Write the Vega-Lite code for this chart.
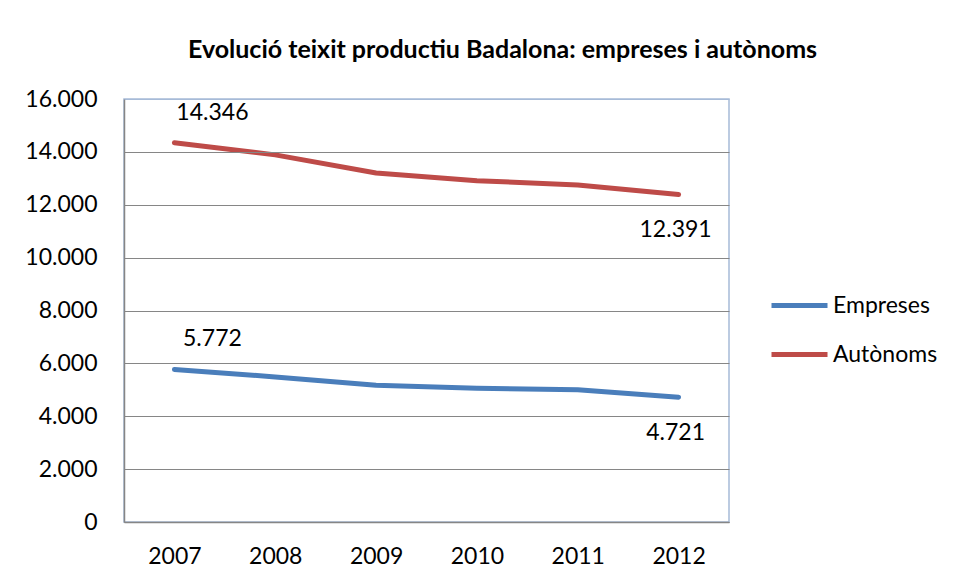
{
  "$schema": "https://vega.github.io/schema/vega-lite/v6.json",
  "width": 605,
  "height": 423,
  "autosize": {"type": "none"},
  "padding": {"left": 124, "top": 99, "right": 226, "bottom": 61},
  "background": "white",
  "config": {
    "font": "Lato",
    "view": {"stroke": "#A7BBD8", "strokeWidth": 1.5},
    "locale": {"number": {"decimal": ",", "thousands": ".", "grouping": [3], "currency": ["", " €"]}}
  },
  "title": {
    "text": "Evolució teixit productiu Badalona: empreses i autònoms",
    "font": "Lato",
    "fontSize": 25,
    "fontWeight": "bold",
    "color": "black",
    "anchor": "middle",
    "dx": 76,
    "baseline": "alphabetic",
    "offset": 5
  },
  "data": {
    "values": [
      {"year": "2007", "series": "Empreses", "value": 5772},
      {"year": "2008", "series": "Empreses", "value": 5487},
      {"year": "2009", "series": "Empreses", "value": 5175},
      {"year": "2010", "series": "Empreses", "value": 5062},
      {"year": "2011", "series": "Empreses", "value": 5000},
      {"year": "2012", "series": "Empreses", "value": 4721},
      {"year": "2007", "series": "Autònoms", "value": 14346},
      {"year": "2008", "series": "Autònoms", "value": 13887},
      {"year": "2009", "series": "Autònoms", "value": 13200},
      {"year": "2010", "series": "Autònoms", "value": 12912},
      {"year": "2011", "series": "Autònoms", "value": 12750},
      {"year": "2012", "series": "Autònoms", "value": 12391}
    ]
  },
  "encoding": {
    "x": {
      "field": "year", "type": "ordinal",
      "scale": {"type": "point", "padding": 0.5},
      "axis": {
        "title": null, "labelAngle": 0, "ticks": false, "grid": false,
        "domainColor": "#868686", "domainWidth": 1.5,
        "labelFont": "Lato", "labelFontSize": 23, "labelColor": "black",
        "labelPadding": 23, "zindex": 1
      }
    },
    "y": {
      "field": "value", "type": "quantitative",
      "scale": {"domain": [0, 16000], "nice": false},
      "axis": {
        "title": null, "values": [0, 2000, 4000, 6000, 8000, 10000, 12000, 14000, 16000],
        "format": ",d", "ticks": false,
        "domainColor": "#868686", "domainWidth": 1.5,
        "gridColor": {"condition": {"test": "datum.value == 16000", "value": "#A7BBD8"}, "value": "#868686"},
        "gridWidth": 1.2,
        "labelFont": "Lato", "labelFontSize": 23, "labelColor": "black",
        "labelPadding": 27, "zindex": 1
      }
    }
  },
  "layer": [
    {
      "mark": {"type": "line", "strokeWidth": 5, "strokeCap": "round", "strokeJoin": "round"},
      "encoding": {
        "color": {
          "field": "series", "type": "nominal",
          "scale": {"domain": ["Empreses", "Autònoms"], "range": ["#4A7EBB", "#BE4B48"]},
          "legend": {
            "title": null, "orient": "none", "legendX": 645, "legendY": 176,
            "symbolType": "stroke", "symbolSize": 3136, "symbolStrokeWidth": 5,
            "labelFont": "Lato", "labelFontSize": 23, "labelColor": "black",
            "labelOffset": 3, "rowPadding": 6, "padding": 0
          }
        }
      }
    },
    {
      "transform": [{"filter": "datum.year == '2007'"}],
      "mark": {"type": "text", "font": "Lato", "fontSize": 23, "color": "black", "align": "center", "baseline": "middle", "dx": 38, "dy": -30},
      "encoding": {"text": {"field": "value", "type": "quantitative", "format": ",d"}}
    },
    {
      "transform": [{"filter": "datum.year == '2012'"}],
      "mark": {"type": "text", "font": "Lato", "fontSize": 23, "color": "black", "align": "center", "baseline": "middle", "dx": -3, "dy": 36},
      "encoding": {"text": {"field": "value", "type": "quantitative", "format": ",d"}}
    }
  ]
}
